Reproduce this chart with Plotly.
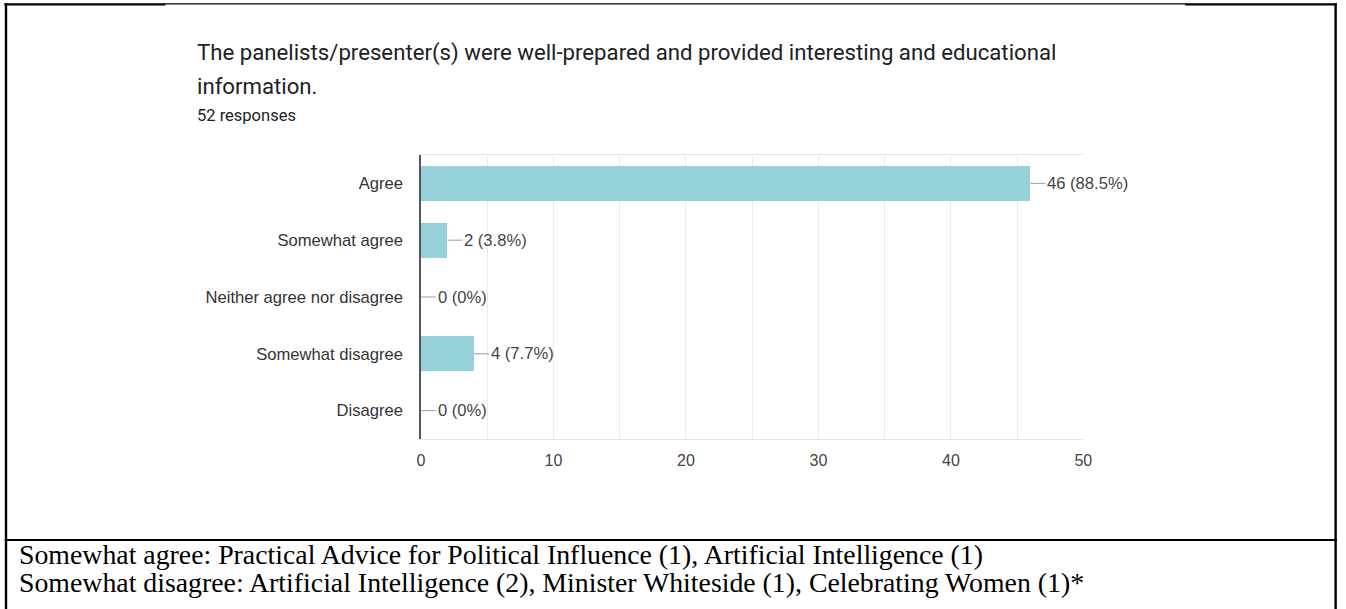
import plotly.graph_objects as go

# Survey responses
categories = ["Agree", "Somewhat agree", "Neither agree nor disagree", "Somewhat disagree", "Disagree"]
counts = [46, 2, 0, 4, 0]
percent_labels = ["88.5%", "3.8%", "0%", "7.7%", "0%"]
total_responses = 52

title_line1 = "The panelists/presenter(s) were well-prepared and provided interesting and educational"
title_line2 = "information."
footer_lines = [
    "Somewhat agree: Practical Advice for Political Influence (1), Artificial Intelligence (1)",
    "Somewhat disagree: Artificial Intelligence (2), Minister Whiteside (1), Celebrating Women (1)*",
]

W, H = 1346, 609


def px(x):
    # page x position (pixels) -> paper fraction, slightly widened layout grid
    return min(max((x - 2.6) / 0.9913, 0), W) / W


def py(y):
    return 1 - y / H


BAR_COLOR = "#96d1d9"
GRID = "#ebebeb"
CHART_FONT = "Arial, 'Liberation Sans', sans-serif"
SERIF = "Garamond, 'Liberation Serif', serif"
x_max = 50
units_per_px = x_max / (1083 - 420)

fig = go.Figure()
fig.add_trace(go.Bar(
    x=counts,
    y=categories,
    orientation="h",
    width=0.618,
    marker=dict(color=BAR_COLOR, line=dict(width=0)),
    hoverinfo="skip",
))

shapes = []
annotations = []

# leader lines + value labels
for cat, c, p in zip(categories, counts, percent_labels):
    shapes.append(dict(type="line", xref="x", yref="y",
                       x0=c, x1=c + 15 * units_per_px, y0=cat, y1=cat,
                       line=dict(color="#9e9e9e", width=1)))
    annotations.append(dict(xref="x", yref="y", x=c, y=cat, xshift=15,
                            text=f"{c} ({p})", showarrow=False,
                            xanchor="left", yanchor="middle",
                            font=dict(family=CHART_FONT, size=16.6, color="#444444")))

# title block
annotations += [
    dict(xref="paper", yref="paper", x=px(194), y=py(52), text=title_line1,
         showarrow=False, xanchor="left", yanchor="middle",
         font=dict(family="Roboto, sans-serif", size=22.2, color="#202124")),
    dict(xref="paper", yref="paper", x=px(194), y=py(86), text=title_line2,
         showarrow=False, xanchor="left", yanchor="middle",
         font=dict(family="Roboto, sans-serif", size=22.2, color="#202124")),
    dict(xref="paper", yref="paper", x=px(194), y=py(115), text=f"{total_responses} responses",
         showarrow=False, xanchor="left", yanchor="middle",
         font=dict(family="Roboto, sans-serif", size=16.5, color="#202124")),
]

# footer notes
for i, line in enumerate(footer_lines):
    annotations.append(dict(xref="paper", yref="paper", x=px(16), y=py(554 + 28 * i),
                            text=line, showarrow=False, xanchor="left", yanchor="middle",
                            font=dict(family=SERIF, size=27.8, color="#000000")))

# document table borders
frame = "#000000"
shapes += [
    dict(type="line", xref="paper", yref="paper", x0=px(3), x1=px(164), y0=py(4.3), y1=py(4.3),
         line=dict(color=frame, width=2.2)),
    dict(type="line", xref="paper", yref="paper", x0=px(163), x1=px(1186), y0=py(3.8), y1=py(3.8),
         line=dict(color=frame, width=1.2)),
    dict(type="line", xref="paper", yref="paper", x0=px(1185), x1=px(1346), y0=py(4.3), y1=py(4.3),
         line=dict(color=frame, width=2.2)),
    dict(type="line", xref="paper", yref="paper", x0=px(4.6), x1=px(4.6), y0=py(3.3), y1=py(609),
         line=dict(color=frame, width=2.4)),
    dict(type="line", xref="paper", yref="paper", x0=1344.6 / W, x1=1344.6 / W, y0=py(3.3), y1=py(609),
         line=dict(color=frame, width=2.4)),
    dict(type="line", xref="paper", yref="paper", x0=px(3.5), x1=px(1346), y0=py(540), y1=py(540),
         line=dict(color=frame, width=2.2)),
]

fig.update_layout(
    width=W, height=H,
    margin=dict(l=0, r=0, t=0, b=0),
    paper_bgcolor="white", plot_bgcolor="white",
    showlegend=False,
    bargap=0,
    shapes=shapes,
    annotations=annotations,
    xaxis=dict(
        domain=[px(420), px(1083)],
        range=[0, x_max],
        dtick=10, tick0=0,
        showgrid=True, gridcolor=GRID, gridwidth=1,
        minor=dict(dtick=5, showgrid=True, gridcolor=GRID, gridwidth=1),
        showline=True, linecolor="#e3e3e3", linewidth=1, mirror=True,
        zeroline=False,
        ticks="", ticklabelstandoff=7,
        tickfont=dict(family=CHART_FONT, size=16, color="#444444"),
        fixedrange=True,
    ),
    yaxis=dict(
        domain=[py(439), py(155)],
        type="category",
        categoryorder="array", categoryarray=categories,
        autorange="reversed",
        showgrid=False,
        showline=True, linecolor="#555555", linewidth=1.5,
        zeroline=False,
        ticks="", ticklabelstandoff=13,
        tickfont=dict(family=CHART_FONT, size=16.6, color="#333333"),
        fixedrange=True,
    ),
)

fig.write_html("out.html", config={"displayModeBar": False})
